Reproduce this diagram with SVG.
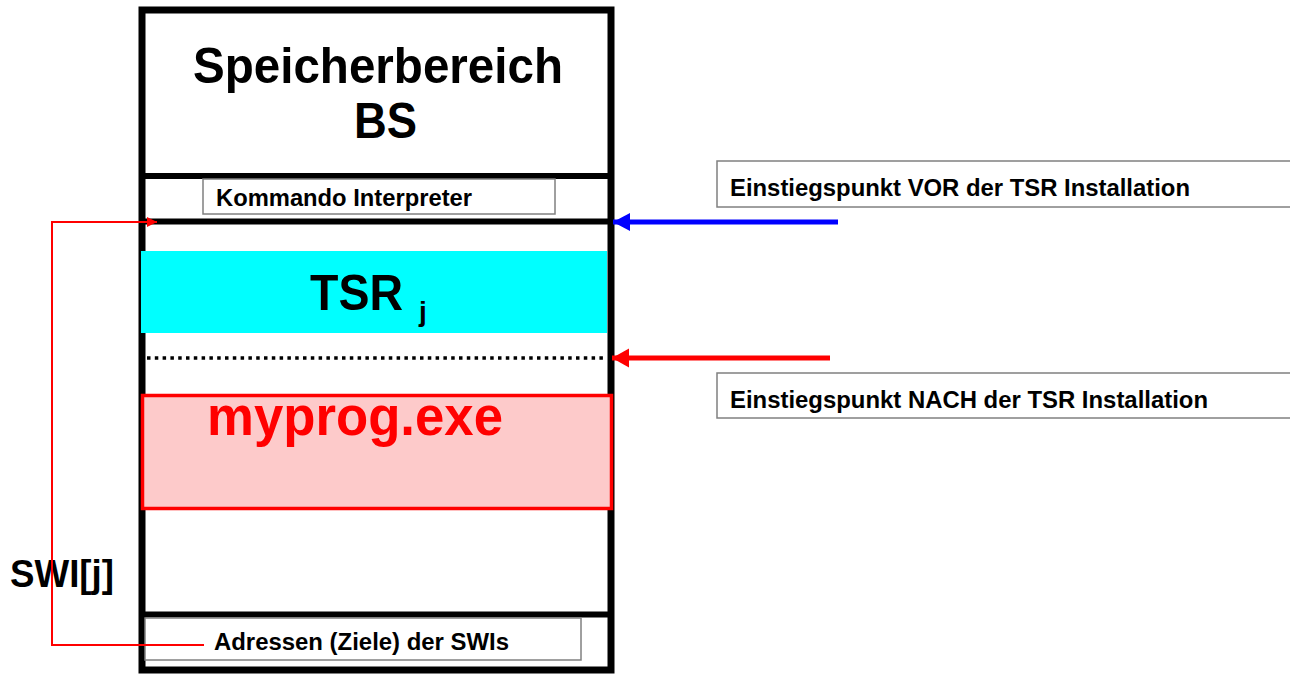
<svg xmlns="http://www.w3.org/2000/svg" width="1290" height="674" viewBox="0 0 1290 674">
<style>
text{font-family:"Liberation Sans",Arial,sans-serif;font-weight:bold;fill:#000}
.lbl{font-size:23.5px}
.big{font-size:50px}
.box{fill:#fff;stroke:#808080;stroke-width:1.5}
.sep{stroke:#000;stroke-width:6}
</style>
<defs>
<marker id="ahBlue" markerUnits="userSpaceOnUse" markerWidth="18" markerHeight="20" refX="17" refY="9" orient="auto"><path d="M0,0 L17,9 L0,18 Z" fill="#0000ff"/></marker>
<marker id="ahRed" markerUnits="userSpaceOnUse" markerWidth="18" markerHeight="20" refX="17" refY="9.5" orient="auto"><path d="M0,0 L17,9.5 L0,19 Z" fill="#ff0000"/></marker>
<marker id="ahRedSmall" markerUnits="userSpaceOnUse" markerWidth="12" markerHeight="12" refX="10" refY="5" orient="auto"><path d="M0,0 L10,5 L0,10 Z" fill="#ff0000"/></marker>
</defs>
<g id="memory">
<rect x="142" y="10" width="469" height="660" fill="#fff" stroke="#000" stroke-width="7"/>
<line class="sep" x1="142" y1="176" x2="611" y2="176"/>
<line class="sep" x1="142" y1="221.5" x2="611" y2="221.5"/>
<line class="sep" x1="142" y1="614.5" x2="611" y2="614.5"/>
<text class="big" x="193" y="83" textLength="370" lengthAdjust="spacingAndGlyphs">Speicherbereich</text>
<text class="big" x="354" y="138" textLength="63" lengthAdjust="spacingAndGlyphs">BS</text>
</g>
<g id="kommando">
<rect class="box" x="203" y="179" width="352" height="35"/>
<text class="lbl" x="216" y="206" textLength="256" lengthAdjust="spacingAndGlyphs">Kommando Interpreter</text>
</g>
<g id="tsr">
<rect x="141" y="251" width="466" height="82" fill="#00ffff"/>
<text class="big" x="310" y="310" textLength="93" lengthAdjust="spacingAndGlyphs">TSR</text>
<text x="419" y="321" font-size="28">j</text>
</g>
<g id="entry-after">
<line x1="147" y1="358" x2="607" y2="358" stroke="#000" stroke-width="3.5" stroke-dasharray="3.5 4.3"/>
</g>
<g id="myprog">
<rect x="142.5" y="395.5" width="469" height="113" fill="#fdcaca" stroke="#ff0000" stroke-width="3.5"/>
<text x="207" y="435" font-size="56" textLength="296" lengthAdjust="spacingAndGlyphs" style="fill:#ff0000">myprog.exe</text>
</g>
<g id="adressen">
<rect class="box" x="145" y="618" width="436" height="42"/>
<text class="lbl" x="214" y="650" textLength="295" lengthAdjust="spacingAndGlyphs">Adressen (Ziele) der SWIs</text>
</g>
<g id="label-vor">
<rect class="box" x="717" y="161" width="600" height="46"/>
<text class="lbl" x="730" y="196" textLength="460" lengthAdjust="spacingAndGlyphs">Einstiegspunkt VOR der TSR Installation</text>
</g>
<g id="label-nach">
<rect class="box" x="717" y="373" width="600" height="45"/>
<text class="lbl" x="730" y="408" textLength="478" lengthAdjust="spacingAndGlyphs">Einstiegspunkt NACH der TSR Installation</text>
</g>
<g id="swi-label">
<text x="10" y="587" font-size="38" textLength="104" lengthAdjust="spacingAndGlyphs">SWI[j]</text>
</g>
<g id="connectors">
<line x1="838" y1="222" x2="613" y2="222" stroke="#0000ff" stroke-width="5" marker-end="url(#ahBlue)"/>
<line x1="830" y1="358" x2="612" y2="358" stroke="#ff0000" stroke-width="5" marker-end="url(#ahRed)"/>
<polyline points="204,645 52,645 52,222 157,222" fill="none" stroke="#ff0000" stroke-width="2" marker-end="url(#ahRedSmall)"/>
</g>
</svg>
